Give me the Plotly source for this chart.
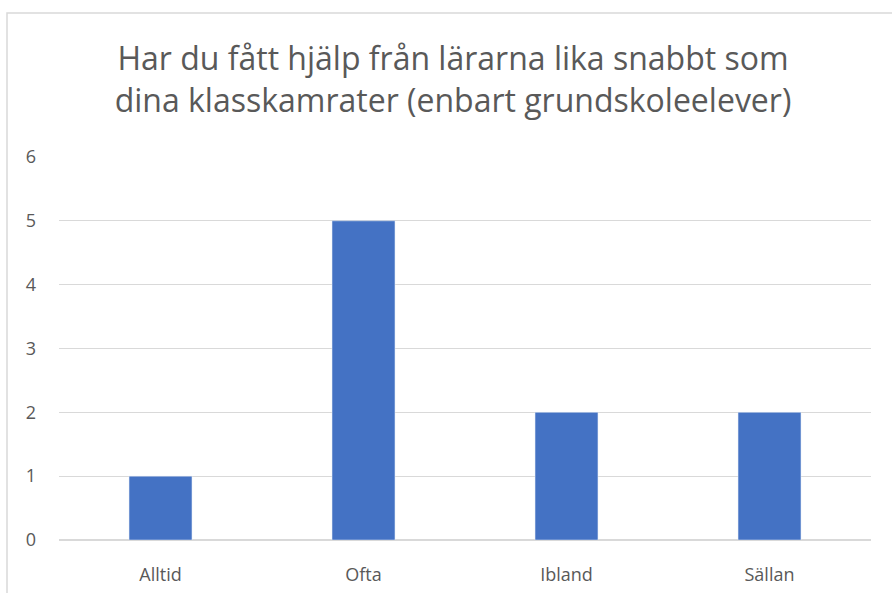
import plotly.graph_objects as go

categories = ["Alltid", "Ofta", "Ibland", "Sällan"]
values = [1, 5, 2, 2]
title_lines = ["Har du fått hjälp från lärarna lika snabbt som",
               "dina klasskamrater (enbart grundskoleelever)"]

W, H = 892, 593
L, R, T, B = 59, 21, 157, 53
pw, ph = W - L - R, H - T - B

def px_x(p):
    return (p - L) / pw

def px_y(p):
    return (H - B - p) / ph

fig = go.Figure(go.Bar(
    x=categories, y=values, marker_color="#4472C4", width=0.31,
))

fig.update_layout(
    width=W, height=H,
    margin=dict(l=L, r=R, t=T, b=B),
    paper_bgcolor="white", plot_bgcolor="white",
    font=dict(family="Open Sans, sans-serif", color="#595959", size=18),
    title=dict(text="<br>".join(title_lines), x=453 / W, xanchor="center",
               y=1 - 70 / H, yanchor="middle", yref="container",
               font=dict(size=32, color="#595959")),
    showlegend=False,
    bargap=0.69,
)
fig.update_xaxes(showgrid=False, showline=False, ticks="", ticklabelstandoff=22,
                 automargin=False, tickfont=dict(size=18))
fig.update_yaxes(range=[0, 6], dtick=1, showgrid=True, gridcolor="#D9D9D9",
                 gridwidth=1, zeroline=True, zerolinecolor="#D9D9D9",
                 showline=False, ticks="", ticklabelstandoff=22, automargin=False,
                 tickfont=dict(size=18))
fig.add_shape(type="rect", xref="paper", yref="paper",
              x0=px_x(7), x1=px_x(W + 10), y0=px_y(H + 10), y1=px_y(13),
              line=dict(color="#D9D9D9", width=1.5), layer="below")
fig.write_html("out.html", config={"displayModeBar": False},
               post_script="document.body.style.margin='0';")
